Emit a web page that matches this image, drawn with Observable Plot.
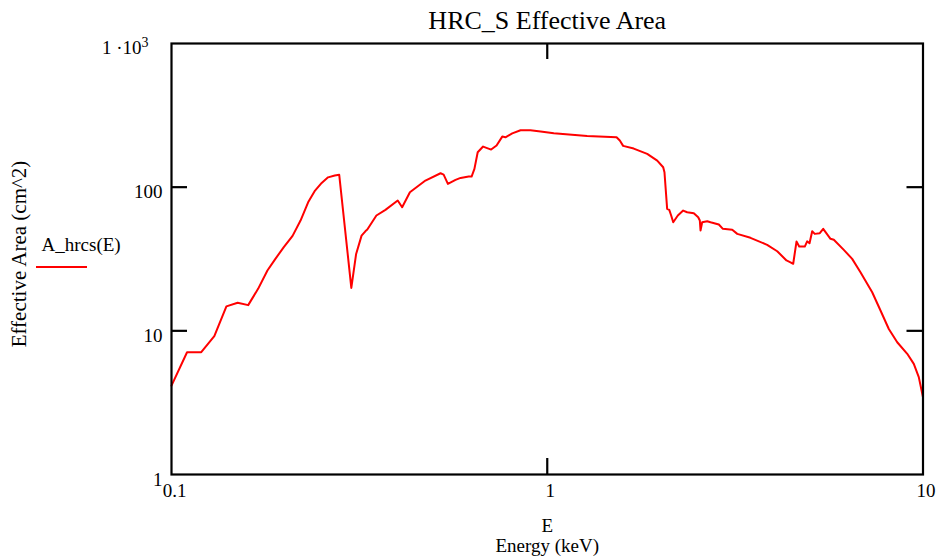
<!DOCTYPE html>
<html>
<head>
<meta charset="utf-8">
<script src="https://cdn.jsdelivr.net/npm/d3@7"></script>
<script src="https://cdn.jsdelivr.net/npm/@observablehq/plot@0.6"></script>
<style>
  body { margin: 0; background: #fff; }
  #chart svg { font-family: "Liberation Serif", "Times New Roman", serif; }
</style>
</head>
<body>
<div id="chart"></div>
<script>
// HRC-S effective area (cm^2) versus photon energy (keV)
const energy = [
  0.100, 0.110, 0.120, 0.130, 0.140, 0.150, 0.160, 0.170, 0.180, 0.189,
  0.199, 0.210, 0.2205, 0.231, 0.241, 0.251, 0.261, 0.272, 0.2795, 0.301,
  0.310, 0.3205, 0.328, 0.332, 0.351, 0.371, 0.400, 0.411, 0.431, 0.474,
  0.520, 0.530, 0.544, 0.570, 0.588, 0.618, 0.629, 0.640, 0.653, 0.675,
  0.709, 0.733, 0.759, 0.774, 0.807, 0.849, 0.902, 0.960, 1.041, 1.277,
  1.529, 1.560, 1.592, 1.699, 1.845, 1.962, 2.035, 2.051, 2.085, 2.112,
  2.137, 2.164, 2.226, 2.300, 2.357, 2.455, 2.522, 2.547, 2.558, 2.584,
  2.666, 2.720, 2.862, 2.934, 3.107, 3.204, 3.474, 3.848, 4.093, 4.332,
  4.440, 4.514, 4.606, 4.683, 4.846, 4.917, 4.989, 5.071, 5.152, 5.313,
  5.425, 5.673, 5.790, 6.155, 6.479, 6.817, 7.325, 7.707, 8.110, 8.539,
  9.080, 9.452, 9.745, 10.00
];
const area = [
  4.16, 7.10, 7.10, 9.17, 14.8, 15.7, 15.1, 19.6, 26.3, 31.7,
  38.2, 45.8, 58.6, 78.5, 94.7, 107, 117, 120.5, 121.8, 19.9,
  34.3, 46.0, 49.3, 50.7, 63.5, 69.5, 80.7, 72.5, 92.2, 111.2,
  125, 122.4, 105.4, 112.4, 116, 118.5, 118.5, 134, 175, 191.7,
  182.7, 194.8, 224.9, 222.5, 237, 248.9, 248.9, 243.8, 237, 227.5,
  222.5, 211, 193.8, 185.6, 170.5, 153.1, 137.6, 127, 70.6, 69.5,
  63.5, 57.0, 63.5, 68.7, 66.9, 65.8, 61.7, 58.6, 49.9, 57.0,
  57.9, 57.0, 55.0, 51.3, 50.5, 47.3, 44.4, 39.7, 35.8, 30.9,
  30.0, 29.3, 41.8, 38.6, 38.6, 42.0, 40.7, 49.3, 47.3, 47.8,
  51.3, 43.7, 43.0, 36.6, 31.7, 25.6, 18.57, 13.85, 10.3, 8.33,
  6.92, 5.89, 4.76, 3.45
];

const xTicks = [0.1, 1, 10];
const yTicks = [1, 10, 100];
const yTopTick = [1000];
const yInnerTicks = [10, 100];
const xInnerTicks = [1];

const titleText = "HRC_S Effective Area";
const xName = "E";
const xLabel = "Energy (keV)";
const yLabel = "Effective Area (cm^2)";
const seriesName = "A_hrcs(E)";
const seriesColor = "#ff0000";

const rows = energy.map((e, i) => ({E: e, A: area[i]}));

const W = 939, H = 559;
const mL = 171, mR = 16.5, mT = 43, mB = 85;
const plotW = W - mL - mR, plotH = H - mT - mB;
const tick = 16;

const chart = Plot.plot({
  width: W,
  height: H,
  marginLeft: mL,
  marginRight: mR,
  marginTop: mT,
  marginBottom: mB,
  style: {background: "#fff", color: "#000", fontSize: "19px", fontFamily: "Liberation Serif, Times New Roman, serif"},
  x: {type: "log", domain: [0.1, 10]},
  y: {type: "log", domain: [1, 1000]},
  marks: [
    Plot.line(rows, {x: "E", y: "A", stroke: seriesColor, strokeWidth: 2}),
    Plot.frame({stroke: "#000", strokeWidth: 2.2}),
    // inward ticks on all four sides
    Plot.ruleY(yInnerTicks, {insetRight: plotW - tick, stroke: "#000", strokeWidth: 2.2}),
    Plot.ruleY(yInnerTicks, {insetLeft: plotW - tick, stroke: "#000", strokeWidth: 2.2}),
    Plot.ruleX(xInnerTicks, {insetBottom: plotH - tick, stroke: "#000", strokeWidth: 2.2}),
    Plot.ruleX(xInnerTicks, {insetTop: plotH - tick, stroke: "#000", strokeWidth: 2.2}),
    Plot.axisX(xTicks, {tickSize: 0, tickPadding: 9, dx: 3, label: null, tickFormat: d => String(d), fontSize: 19}),
    Plot.axisY(yTicks, {tickSize: 0, tickPadding: 9, dy: 5, label: null, tickFormat: d => String(d), fontSize: 19}),
    Plot.axisY(yTopTick, {tickSize: 0, tickPadding: 23, dy: 4, label: null, tickFormat: () => "1 ·10", fontSize: 19, className: "top-label"}),
    Plot.text([titleText], {frameAnchor: "top", lineAnchor: "middle", dy: -23, fontSize: 26}),
    Plot.text([xName], {frameAnchor: "bottom", lineAnchor: "middle", dy: 51, fontSize: 19}),
    Plot.text([xLabel], {frameAnchor: "bottom", lineAnchor: "middle", dy: 71, fontSize: 19}),
    Plot.text([yLabel], {frameAnchor: "left", textAnchor: "middle", lineAnchor: "middle", rotate: -90, dx: -152, dy: -5, fontSize: 21}),
    Plot.text([seriesName], {frameAnchor: "left", textAnchor: "start", lineAnchor: "middle", dx: -130, dy: -14, fontSize: 19})
  ]
});

// exponent of the top y label as a raised superscript
d3.select(chart).selectAll("text")
  .filter(function() { return this.textContent === "1 ·10"; })
  .append("tspan")
  .attr("dy", "-0.5em")
  .attr("font-size", 14)
  .text("3");

// legend swatch under the series name
d3.select(chart).append("line")
  .attr("x1", 36).attr("x2", 87)
  .attr("y1", 267).attr("y2", 267)
  .attr("stroke", seriesColor)
  .attr("stroke-width", 2);

document.getElementById("chart").append(chart);
</script>
</body>
</html>
